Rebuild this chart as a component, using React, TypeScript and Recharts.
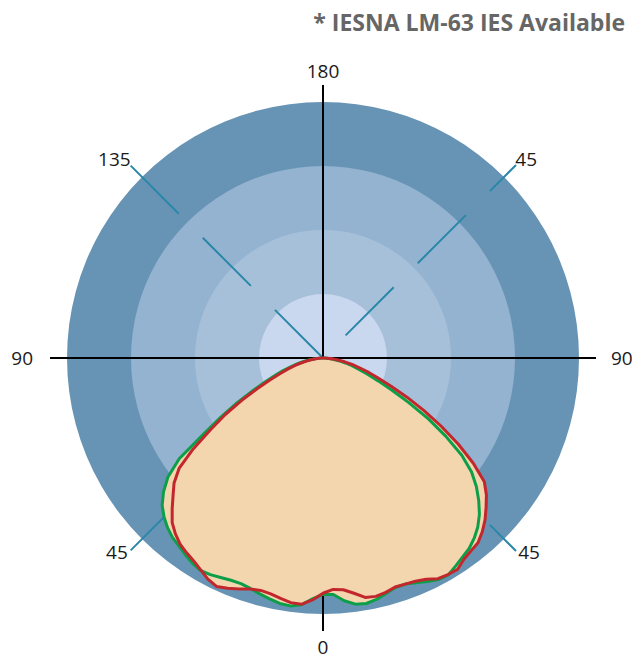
import {
  PieChart,
  Pie,
  RadarChart,
  Radar,
  PolarGrid,
  PolarAngleAxis,
  PolarRadiusAxis,
} from "recharts";

// angle from nadir in degrees (negative = left half, positive = right half)
const angles = [
  -90, -87.5, -85, -82.5, -80, -77.5, -75, -72.5, -70, -67.5, -65, -62.5, -60, -57.5, -55, -52.5,
  -50, -47.5, -45, -42.5, -40, -37.5, -35, -32.5, -30, -27.5, -25, -22.5, -20, -17.5, -15, -12.5,
  -10, -7.5, -5, -2.5, 0, 2.5, 5, 7.5, 10, 12.5, 15, 17.5, 20, 22.5, 25, 27.5, 30, 32.5, 35, 37.5,
  40, 42.5, 45, 47.5, 50, 52.5, 55, 57.5, 60, 62.5, 65, 67.5, 70, 72.5, 75, 77.5, 80, 82.5, 85,
  87.5, 90,
];

// relative intensity, % of the outer ring
const greenCurve = [
  0, 1.2, 3.1, 5.1, 7.4, 10.2, 12.9, 16.4, 19.9, 24.6, 30.5, 37.9, 46.1, 55.5, 68.8, 76.6,
  81.6, 85.5, 88.1, 90.2, 91.8, 92.8, 94.1, 95.3, 96.1, 95.7, 94.9, 94.3, 94.1, 94.7, 95.7, 96.7,
  97.7, 98.0, 97.1, 94.5, 92.6, 92.8, 95.5, 97.3, 97.7, 96.9, 95.5, 94.3, 94.3, 95.3, 96.7, 97.9,
  98.2, 96.7, 95.3, 94.1, 92.2, 89.8, 86.7, 82.8, 78.5, 73.4, 66.4, 57.0, 47.7, 37.9, 29.7, 23.4,
  18.4, 14.8, 11.7, 9.0, 6.6, 4.3, 2.3, 0.8, 0,
];

const redCurve = [
  0, 0.8, 2.3, 4.3, 6.3, 8.6, 11.3, 14.5, 18.0, 22.7, 28.5, 35.9, 44.1, 52.3, 62.1, 71.1,
  76.2, 79.7, 83.6, 87.5, 90.0, 92.0, 93.2, 94.3, 95.9, 97.7, 98.8, 97.7, 96.3, 94.9, 94.3, 94.7,
  95.7, 96.7, 96.9, 94.9, 92.2, 90.8, 91.2, 93.0, 95.3, 95.7, 95.1, 94.1, 94.3, 94.7, 95.7, 97.5,
  98.0, 98.2, 96.3, 95.3, 94.5, 92.4, 89.8, 86.7, 83.6, 79.7, 71.9, 62.9, 53.5, 44.5, 36.3, 28.9,
  23.0, 18.8, 14.8, 11.7, 8.6, 5.9, 3.5, 1.6, 0,
];

const angleTicks = [-135, -90, -45, 0, 45, 90, 135, 180];
const tickLabels = ["135", "90", "45", "0", "45", "90", "45", "180"];

const rows = angles.map((angle, i) => ({ angle, green: greenCurve[i], red: redCurve[i] }));

const CX = 323;
const CY = 358;
const RINGS = [
  { r: 256, color: "#6794b5" },
  { r: 192, color: "#94b3d0" },
  { r: 128, color: "#a7c0d9" },
  { r: 64, color: "#c9d7ef" },
];
const FILL = "#f4d6ae";
const GREEN = "#0d9e4a";
const RED = "#c1272d";
const DIAG = "#2a87a8";

const AngleTick = (props: any) => {
  const { payload } = props;
  const a = (-payload.coordinate * Math.PI) / 180;
  const ux = Math.cos(a);
  const uy = Math.sin(a);
  const label = tickLabels[angleTicks.indexOf(payload.value)];
  let x = CX;
  let y = CY;
  let anchor: "start" | "middle" | "end" = "middle";
  if (Math.abs(uy) < 0.2) {
    x = ux < 0 ? CX - 290 : CX + 288;
    y = CY + 7;
    anchor = ux < 0 ? "end" : "start";
  } else if (Math.abs(ux) < 0.2) {
    y = uy < 0 ? CY - 280 : CY + 296;
  } else {
    anchor = ux < 0 ? "end" : "start";
    if (uy < 0) {
      x = CX + ux * 272;
      y = CY + uy * 272;
    } else {
      x = CX + ux * 276;
      y = CY + uy * 264.5 + 14;
    }
  }
  return (
    <text x={x} y={y} textAnchor={anchor} fontSize={19} fill="#1a1a1a" fontFamily="'Open Sans', sans-serif">
      {label}
    </text>
  );
};

export default function App() {
  return (
    <div style={{ position: "absolute", left: 0, top: 0, width: 632, height: 660, background: "#fff" }}>
      <div
        style={{
          position: "absolute",
          right: 7,
          top: 10,
          fontFamily: "'Open Sans', sans-serif",
          fontWeight: 700,
          fontSize: 23,
          lineHeight: "24px",
          color: "#666666",
          whiteSpace: "nowrap",
        }}
      >
        * IESNA LM-63 IES Available
      </div>
      <div style={{ position: "absolute", left: 0, top: 0 }}>
        <PieChart width={632} height={660} margin={{ top: 0, right: 0, bottom: 0, left: 0 }}>
          {RINGS.map((ring) => (
            <Pie
              key={ring.r}
              data={[{ v: 1 }]}
              dataKey="v"
              cx={CX}
              cy={CY}
              innerRadius={0}
              outerRadius={ring.r}
              fill={ring.color}
              stroke="none"
              isAnimationActive={false}
            />
          ))}
        </PieChart>
      </div>
      <div style={{ position: "absolute", left: 0, top: 0 }}>
        <RadarChart
          width={632}
          height={660}
          data={rows}
          cx={CX}
          cy={CY}
          outerRadius={273}
          startAngle={90}
          endAngle={450}
          margin={{ top: 0, right: 0, bottom: 0, left: 0 }}
        >
          <PolarGrid gridType="circle" polarRadius={[0]} polarAngles={[135, 225]} stroke={DIAG} strokeWidth={2} strokeDasharray="68 34" />
          <PolarGrid gridType="circle" polarRadius={[0]} polarAngles={[45, 315]} stroke={DIAG} strokeWidth={2} strokeDasharray="68 34" strokeDashoffset={70} />
          <PolarGrid gridType="circle" polarRadius={[0]} polarAngles={[0, 90, 180, 270]} stroke="#000" strokeWidth={2} />
          <PolarAngleAxis
            type="number"
            dataKey="angle"
            domain={[-180, 180]}
            ticks={angleTicks}
            tick={AngleTick}
            axisLine={false}
            tickLine={false}
          />
          <PolarRadiusAxis type="number" domain={[0, 106.64]} tick={false} axisLine={false} />
          <Radar dataKey="green" fill={FILL} fillOpacity={1} stroke="none" isAnimationActive={false} />
          <Radar dataKey="red" fill={FILL} fillOpacity={1} stroke="none" isAnimationActive={false} />
          <Radar dataKey="green" fill="none" stroke={GREEN} strokeWidth={3} strokeLinejoin="round" isAnimationActive={false} />
          <Radar dataKey="red" fill="none" stroke={RED} strokeWidth={3} strokeLinejoin="round" isAnimationActive={false} />
        </RadarChart>
      </div>
    </div>
  );
}
